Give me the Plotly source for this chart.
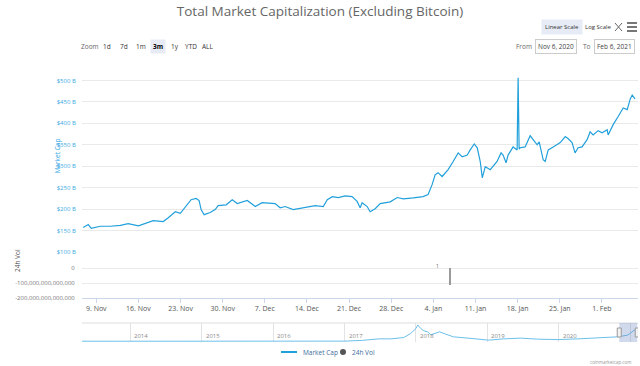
import plotly.graph_objects as go

# ---------------- data ----------------
mc_dates = [
    "2020-11-06 20:00", "2020-11-07 16:00", "2020-11-08 04:00", "2020-11-09 16:00", "2020-11-11 08:00",
    "2020-11-13 00:00", "2020-11-14 07:00", "2020-11-16 00:00", "2020-11-18 11:00", "2020-11-20 03:00",
    "2020-11-20 23:00", "2020-11-22 03:00", "2020-11-22 23:00", "2020-11-23 18:00", "2020-11-24 18:00",
    "2020-11-25 14:00", "2020-11-26 02:00", "2020-11-26 10:00", "2020-11-26 22:00", "2020-11-27 22:00",
    "2020-11-28 18:00", "2020-11-29 06:00", "2020-11-30 14:00", "2020-12-01 14:00", "2020-12-02 10:00",
    "2020-12-04 02:00", "2020-12-05 10:00", "2020-12-06 13:00", "2020-12-08 17:00", "2020-12-09 13:00",
    "2020-12-10 09:00", "2020-12-11 17:00", "2020-12-13 17:00", "2020-12-15 09:00", "2020-12-16 17:00",
    "2020-12-17 09:00", "2020-12-18 05:00", "2020-12-19 05:00", "2020-12-20 08:00", "2020-12-21 12:00",
    "2020-12-22 08:00", "2020-12-22 20:00", "2020-12-23 04:00", "2020-12-24 00:00", "2020-12-24 12:00",
    "2020-12-25 08:00", "2020-12-26 04:00", "2020-12-27 20:00", "2020-12-29 00:00", "2020-12-30 00:00",
    "2020-12-31 16:00", "2021-01-02 07:00", "2021-01-03 03:00", "2021-01-03 19:00", "2021-01-04 07:00",
    "2021-01-04 19:00", "2021-01-05 11:00", "2021-01-06 11:00", "2021-01-07 07:00", "2021-01-08 03:00",
    "2021-01-08 19:00", "2021-01-09 15:00", "2021-01-10 03:00", "2021-01-10 19:00", "2021-01-11 07:00",
    "2021-01-11 19:00", "2021-01-12 03:00", "2021-01-12 15:00", "2021-01-13 11:00", "2021-01-14 14:00",
    "2021-01-15 06:00", "2021-01-15 14:00", "2021-01-16 02:00", "2021-01-16 10:00", "2021-01-17 06:00",
    "2021-01-17 22:00", "2021-01-18 02:00", "2021-01-18 06:00", "2021-01-18 10:00", "2021-01-19 06:00",
    "2021-01-20 02:00", "2021-01-20 14:00", "2021-01-21 06:00", "2021-01-21 14:00", "2021-01-22 06:00",
    "2021-01-22 14:00", "2021-01-23 02:00", "2021-01-23 22:00", "2021-01-25 02:00", "2021-01-25 22:00",
    "2021-01-26 10:00", "2021-01-27 01:00", "2021-01-27 13:00", "2021-01-28 01:00", "2021-01-28 17:00",
    "2021-01-29 13:00", "2021-01-30 01:00", "2021-01-30 13:00", "2021-01-31 09:00", "2021-02-01 01:00",
    "2021-02-01 21:00", "2021-02-02 01:00", "2021-02-02 21:00", "2021-02-03 17:00", "2021-02-04 13:00",
    "2021-02-05 05:00", "2021-02-05 17:00", "2021-02-06 01:00", "2021-02-06 12:00",
]
mc_values = [  # billions of USD
    157, 164, 155, 160, 160,
    162, 166, 161, 173, 171,
    180, 194, 190, 203, 222,
    225, 220, 199, 187, 192,
    199, 208, 210, 222, 213,
    220, 206, 215, 213, 203,
    206, 199, 203, 208, 206,
    222, 229, 227, 231, 229,
    218, 203, 215, 206, 194,
    201, 213, 217, 227, 224,
    226, 229, 234, 257, 280,
    285, 276, 292, 311, 331,
    322, 326, 338, 352, 343,
    311, 273, 299, 292, 311,
    331, 326, 308, 326, 345,
    338, 506, 340, 343, 345,
    371, 362, 350, 357, 315,
    311, 338, 345, 355, 369,
    364, 355, 331, 343, 345,
    362, 380, 373, 383, 378,
    385, 373, 397, 416, 436,
    432, 457, 466, 457,
]

vol_dates = ["2021-01-06 19:00"]
vol_values = [-1.13e14]

nav_dates = [
    "2013-04-28", "2013-09-01", "2014-01-01", "2014-06-01", "2015-01-01", "2015-06-01",
    "2016-01-01", "2016-06-01", "2017-01-01", "2017-04-01", "2017-06-25", "2017-08-25",
    "2017-10-30", "2017-12-05", "2018-01-01", "2018-01-10", "2018-01-25", "2018-02-10",
    "2018-03-01", "2018-03-18", "2018-04-12", "2018-05-01", "2018-06-01", "2018-07-12",
    "2018-09-24", "2018-11-28", "2019-01-08", "2019-03-25", "2019-06-20", "2019-09-15",
    "2019-12-28", "2020-04-08", "2020-07-20", "2020-10-30", "2020-12-20", "2021-01-22",
    "2021-02-06",
]
nav_values = [
    5, 5, 8, 6, 4, 3,
    4, 6, 8, 33, 82, 82,
    125, 257, 422, 535, 422, 347,
    313, 215, 257, 313, 238, 149,
    106, 59, 40, 82, 106, 73,
    59, 82, 125, 149, 205, 370,
    314,
]

mc_tick_vals = [100, 150, 200, 250, 300, 350, 400, 450, 500, 550]
mc_tick_text = ["$100 B", "$150 B", "$200 B", "$250 B", "$300 B", "$350 B",
                "$400 B", "$450 B", "$500 B", ""]
vol_tick_vals = [0, -1e14, -2e14]
vol_tick_text = ["0", "-100,000,000,000,000", "-200,000,000,000,000"]
nav_years = ["2014", "2015", "2016", "2017", "2018", "2019", "2020"]

# ---------------- geometry helpers ----------------
W, H = 640, 366
L, R, T, B = 82, 638, 59, 342


def px(x):
    return (x - L) / (R - L)


def py(y):
    return (B - y) / (B - T)


BLUE = "#22a0db"
FONT = "Open Sans"

fig = go.Figure()
fig.add_trace(go.Scatter(x=mc_dates, y=mc_values, mode="lines",
                         line=dict(color=BLUE, width=1.2),
                         xaxis="x", yaxis="y", showlegend=False, hoverinfo="skip"))
fig.add_trace(go.Bar(x=vol_dates, y=vol_values, width=2 * 3600 * 1000,
                     marker=dict(color="#9a9a9a", line=dict(width=0)),
                     xaxis="x", yaxis="y2", showlegend=False, hoverinfo="skip"))
fig.add_trace(go.Scatter(x=nav_dates, y=nav_values, mode="lines",
                         line=dict(color="#6cc0ea", width=1),
                         xaxis="x3", yaxis="y3", showlegend=False, hoverinfo="skip"))

grid = "#e9e9e9"
fig.update_layout(
    width=W, height=H,
    margin=dict(l=L, r=W - R, t=T, b=H - B),
    paper_bgcolor="white", plot_bgcolor="white",
    font=dict(family=FONT, color="#666"),
    title=dict(text="Total Market Capitalization (Excluding Bitcoin)",
               x=0.5, xref="container", xanchor="center",
               y=1 - 11 / H, yref="container", yanchor="middle",
               font=dict(size=13.5, color="#666", family=FONT)),
    xaxis=dict(anchor="y2", range=["2020-11-06 15:00", "2021-02-07 00:00"],
               tick0="2020-11-09", dtick=7 * 24 * 3600 * 1000, tickformat="%-d. %b",
               showgrid=False, showline=True, linecolor="#ccd6eb",
               ticks="outside", ticklen=4, tickcolor="#ccd6eb",
               tickfont=dict(size=7, color="#555"), zeroline=False),
    yaxis=dict(domain=[py(252), 1], range=[100, 550], tickvals=mc_tick_vals,
               ticktext=mc_tick_text, gridcolor=grid, showline=False, zeroline=False,
               ticks="outside", ticklen=4, tickcolor="rgba(0,0,0,0)",
               tickfont=dict(size=6, color="#3aa9e3")),
    yaxis2=dict(domain=[py(298), py(262)], range=[-2e14, 0.4e14], tickvals=vol_tick_vals,
                ticktext=vol_tick_text, gridcolor=grid, showline=False, zeroline=False,
                ticks="outside", ticklen=5, tickcolor="rgba(0,0,0,0)",
                tickfont=dict(size=6, color="#777")),
    xaxis3=dict(anchor="y3", range=["2013-04-28", "2021-02-10"], showticklabels=False,
                tick0="2014-01-01", dtick="M12", showgrid=True, gridcolor="#e3e3e3",
                showline=False, zeroline=False),
    yaxis3=dict(domain=[0, py(323)], range=[-20, 600], showticklabels=False,
                showgrid=False, zeroline=False, showline=False),
    bargap=0,
)

ann = []
shapes = []


def text(x, y, s, size=7, color="#333", anchor="center", **kw):
    ann.append(dict(x=px(x), y=py(y), xref="paper", yref="paper", text=s,
                    showarrow=False, xanchor=anchor, yanchor="middle",
                    font=dict(size=size, color=color, family=FONT), **kw))


# top-right scale buttons
text(562, 27, "Linear Scale", 6, "#333", bgcolor="#e6ebf5", borderpad=3)
text(598, 27, "Log Scale", 6, "#333")
# fullscreen icon (crossed arrows) and hamburger menu
for (x0, y0, x1, y1) in [(615, 23, 622, 31), (615, 31, 622, 23)]:
    shapes.append(dict(type="line", xref="paper", yref="paper",
                       x0=px(x0), y0=py(y0), x1=px(x1), y1=py(y1),
                       line=dict(color="#666", width=1)))
for yy in (23, 27, 31):
    shapes.append(dict(type="line", xref="paper", yref="paper",
                       x0=px(627), y0=py(yy), x1=px(637), y1=py(yy),
                       line=dict(color="#555", width=1.6)))

# range selector
text(90, 47, "Zoom", 6.5, "#666")
for lab, x in [("1d", 107), ("7d", 124), ("1m", 141), ("1y", 175), ("YTD", 191), ("ALL", 208)]:
    text(x, 47, lab, 6.5, "#333")
text(158, 47, "<b>3m</b>", 6.5, "#000", bgcolor="#e6ebf5", borderpad=2)

# date inputs
text(524, 47, "From", 6.5, "#666")
text(556, 47, "Nov 6, 2020", 6.5, "#444", bordercolor="#cccccc", borderwidth=1, borderpad=2)
text(587, 47, "To", 6.5, "#666")
text(614, 47, "Feb 6, 2021", 6.5, "#444", bordercolor="#cccccc", borderwidth=1, borderpad=2)

# axis titles
ann.append(dict(x=px(50), y=py(156), xref="paper", yref="paper", text="Market Cap",
                textangle=-90, showarrow=False, font=dict(size=6.5, color="#3aa9e3", family=FONT)))
ann.append(dict(x=px(11), y=py(274), xref="paper", yref="paper", text="24h Vol",
                textangle=-90, showarrow=False, font=dict(size=6.5, color="#555", family=FONT)))

# small label in the volume pane
ann.append(dict(x="2021-01-04 15:00", y=0.12e14, xref="x", yref="y2", text="1",
                showarrow=False, font=dict(size=5, color="#666", family=FONT)))

# navigator year labels
for yr in nav_years:
    ann.append(dict(x=yr + "-01-01", y=py(336), xref="x3", yref="paper", text=yr,
                    showarrow=False, xanchor="left", xshift=2, yanchor="middle",
                    font=dict(size=6, color="#888", family=FONT)))

# navigator outline and selection mask
shapes.append(dict(type="line", xref="paper", yref="paper", x0=0, x1=1,
                   y0=py(323), y1=py(323), line=dict(color="#dddddd", width=1)))
shapes.append(dict(type="rect", xref="x3", yref="paper", x0="2020-11-06", x1="2021-02-06",
                   y0=py(342), y1=py(323), fillcolor="rgba(102,133,194,0.3)",
                   line=dict(width=0), layer="above"))
for xd in ("2020-11-06", "2021-02-06"):
    shapes.append(dict(type="rect", xref="x3", yref="paper", xsizemode="pixel", xanchor=xd,
                       x0=-2, x1=2, y0=py(337), y1=py(328),
                       fillcolor="#f2f2f2", line=dict(color="#999", width=1)))

# legend
shapes.append(dict(type="line", xref="paper", yref="paper", x0=px(281), x1=px(297),
                   y0=py(352), y1=py(352), line=dict(color=BLUE, width=2)))
text(301, 352, "Market Cap", 6.5, "#3b6e9c", anchor="left")
shapes.append(dict(type="circle", xref="paper", yref="paper", x0=px(340), x1=px(346),
                   y0=py(355), y1=py(349), fillcolor="#555", line=dict(width=0)))
text(350, 352, "24h Vol", 6.5, "#3b6e9c", anchor="left")

# credits
text(633, 362, "coinmarketcap.com", 4.5, "#999", anchor="right")

fig.update_layout(annotations=ann, shapes=shapes)
fig.write_html("out.html", config={"displayModeBar": False},
               post_script="document.body.style.margin='0';document.body.style.padding='0';")
